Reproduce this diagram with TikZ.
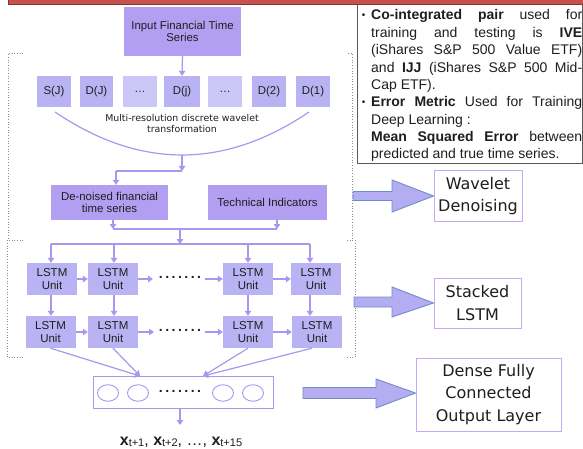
\documentclass[tikz,border=0pt]{standalone}
\usepackage{fontspec}
\setmainfont{Liberation Sans}
\newfontfamily\dejavu{DejaVu Sans}
\usetikzlibrary{arrows.meta,shapes.geometric,calc}
\definecolor{boxA}{HTML}{B29FF2}
\definecolor{boxB}{HTML}{B9B3F3}
\definecolor{boxC}{HTML}{CBC7F7}
\definecolor{lineC}{HTML}{AA96EF}
\definecolor{rbord}{HTML}{C6A8F5}
\definecolor{baFill}{HTML}{B4ADF2}
\definecolor{baDraw}{HTML}{6F8CCB}
\definecolor{barRed}{HTML}{C4524F}
\definecolor{barDark}{HTML}{8E3030}
\definecolor{txt}{HTML}{1E1E1E}
\newcommand\dotrow{\textbf{.\kern2.5pt.\kern2.5pt.\kern2.5pt.\kern2.5pt.\kern2.5pt.\kern2.5pt.}}
\newcommand\xsub[1]{\textbf{x}\raisebox{-1pt}{\fontsize{11}{11}\selectfont #1}}
\begin{document}
\begin{tikzpicture}[x=1pt,y=-1pt,
  pbox/.style={fill=boxA, inner sep=0pt, align=center, text=txt, font=\fontsize{11.4}{11.8}\selectfont},
  dbox/.style={fill=boxB, inner sep=0pt, align=center, text=txt, minimum height=31pt, font=\fontsize{11.4}{12}\selectfont},
  ebox/.style={dbox, fill=boxC},
  lstm/.style={fill=boxB, inner sep=0pt, align=center, text=txt, minimum width=50pt, minimum height=32pt, font=\fontsize{11.5}{12.5}\selectfont},
  conn/.style={draw=lineC, line width=1.2pt},
  arr/.style={conn, -{Triangle[length=5pt,width=6.5pt]}},
  ell/.style={ellipse, draw=lineC, line width=0.9pt, minimum width=21pt, minimum height=16.5pt, inner sep=0pt},
  rbox/.style={draw=rbord, line width=1pt, fill=white, align=center, inner sep=0pt, text=txt, font=\dejavu\fontsize{16}{22.5}\selectfont},
  barrow/.style={fill=baFill, draw=baDraw, line width=0.9pt, line join=miter},
  tl/.style={anchor=base west, inner sep=0pt, text=txt, font=\fontsize{14}{17}\selectfont},
  bul/.style={anchor=base, inner sep=0pt, text=txt, font=\fontsize{10}{10}\selectfont},
  brk/.style={draw=black!45, dotted, line width=0.7pt}
]
\useasboundingbox (0,0) rectangle (583,449);

% red title bar
\draw[fill=barRed, draw=barDark, line width=0.8pt] (8,-3) rectangle (590,4.5);

% dotted brackets
\draw[brk] (23,53) -- (8,53) -- (8,240);
\draw[brk] (348,53) -- (352,53) -- (352,240);
\draw[brk] (23,240) -- (7,240) -- (7,357) -- (23,357);
\draw[brk] (347,240) -- (355,240) -- (355,357) -- (347,357);

% info text box
\draw[draw=black!65, line width=0.8pt] (357,5) -- (357,163) -- (582.6,163) -- (582.6,5);
\node[bul] (b1) at (363.5,19) {•};
\node[tl] (t1) at (371,20) {\makebox[211pt][s]{\textbf{Co-integrated pair} used for}};
\node[tl] (t2) at (371,37.35) {\makebox[211pt][s]{training and testing is \textbf{IVE}}};
\node[tl] (t3) at (371,54.7) {\makebox[211pt][s]{(iShares S\&P 500 Value ETF)}};
\node[tl] (t4) at (371,72.05) {\makebox[211pt][s]{and \textbf{IJJ} (iShares S\&P 500 Mid-}};
\node[tl] (t5) at (371,89.4) {Cap ETF).};
\node[bul] (b2) at (363.5,106) {•};
\node[tl] (t6) at (371,106.75) {\makebox[211pt][s]{\textbf{Error Metric} Used for Training}};
\node[tl] (t7) at (371,124.1) {Deep Learning :};
\node[tl] (t8) at (371,141.45) {\makebox[211pt][s]{\textbf{Mean Squared Error} between}};
\node[tl] (t9) at (371,158.8) {predicted and true time series.};

% input and wavelet decomposition
\node[pbox, minimum width=117pt, minimum height=49pt] (inp) at (182.5,31.5) {Input Financial Time\\Series};
\node[dbox, minimum width=34pt] (sJ) at (54,91.5) {S(J)};
\node[dbox, minimum width=33pt] (dJ) at (96.5,91.5) {D(J)};
\node[ebox, minimum width=34pt] (e1) at (140,91.5) {…};
\node[dbox, minimum width=36pt] (dj) at (182,91.5) {D(j)};
\node[ebox, minimum width=34pt] (e2) at (225,91.5) {…};
\node[dbox, minimum width=34pt] (d2) at (269,91.5) {D(2)};
\node[dbox, minimum width=34pt] (d1) at (313,91.5) {D(1)};
\draw[arr] (inp.south) -- (dj.north);

\coordinate (cL) at (55,112);
\coordinate (cR) at (309,112);
\coordinate (cB) at (182,155);
\draw[conn] (cL) .. controls (139.7,169.3) and (224.3,169.3) .. (cR);
\node[font=\dejavu\fontsize{9.4}{11}\selectfont, align=center, text=txt, inner sep=0pt] (mr) at (182,123.5) {Multi-resolution discrete wavelet\\transformation};

\node[pbox, minimum width=117pt, minimum height=35pt, font=\fontsize{11.4}{12}\selectfont] (den) at (109.5,202.5) {De-noised financial\\time series};
\node[pbox, minimum width=119pt, minimum height=35pt] (tec) at (267.5,202.5) {Technical Indicators};

\coordinate (j1) at (182,171);
\coordinate (j2) at (116,171);
\draw[arr] (cB) -- (j1);
\draw[conn] (j1) -- (j2);
\draw[arr] (j2) -- (j2 |- den.north);

\coordinate (k1) at (113,229);
\coordinate (k2) at (277,229);
\coordinate (k3) at (180,229);
\draw[arr] (den.south -| k1) -- (k1);
\draw[arr] (tec.south -| k2) -- (k2);
\draw[conn] (k1) -- (k2);
\coordinate (m0) at (180,244);
\coordinate (m1) at (51,244);
\coordinate (m2) at (114,244);
\coordinate (m3) at (248,244);
\coordinate (m4) at (310,244);
\draw[arr] (k3) -- (m0);
\draw[conn] (m1) -- (m4);

% stacked LSTM
\node[lstm] (L11) at (52,279) {LSTM\\Unit};
\node[lstm] (L12) at (113,279) {LSTM\\Unit};
\node[lstm] (L13) at (248,279) {LSTM\\Unit};
\node[lstm] (L14) at (316,279) {LSTM\\Unit};
\node[lstm] (L21) at (50.5,332) {LSTM\\Unit};
\node[lstm] (L22) at (113,332) {LSTM\\Unit};
\node[lstm] (L23) at (248,332) {LSTM\\Unit};
\node[lstm] (L24) at (317,332) {LSTM\\Unit};

\draw[arr] (m1) -- (m1 |- L11.north);
\draw[arr] (m2) -- (m2 |- L12.north);
\draw[arr] (m3) -- (m3 |- L13.north);
\draw[arr] (m4) -- (m4 |- L14.north);

\node[inner sep=0pt, text=txt, font=\fontsize{14}{14}\selectfont] (h1) at (180,277) {\dotrow};
\node[inner sep=0pt, text=txt, font=\fontsize{14}{14}\selectfont] (h2) at (180,330) {\dotrow};
\coordinate (a1) at (153,279);
\coordinate (a2) at (205,279);
\coordinate (a3) at (154,332);
\coordinate (a4) at (205,332);
\draw[arr] (L11.east) -- (L12.west);
\draw[arr] (L12.east) -- (a1);
\draw[arr] (a2) -- (L13.west);
\draw[arr] (L13.east) -- (L14.west);
\draw[arr] (L21.east) -- (L22.west);
\draw[arr] (L22.east) -- (a3);
\draw[arr] (a4) -- (L23.west);
\draw[arr] (L23.east) -- (L24.west);

\draw[arr] (L11.south -| m1) -- (m1 |- L21.north);
\draw[arr] (L12.south -| m2) -- (m2 |- L22.north);
\draw[arr] (L13.south -| m3) -- (m3 |- L23.north);
\draw[arr] (L14.south -| m4) -- (m4 |- L24.north);

% dense output layer
\node[draw=lineC, line width=1pt, fill=white, minimum width=180pt, minimum height=32pt, inner sep=0pt] (out) at (183,392) {};
\node[ell] (o1) at (108,393) {};
\node[ell] (o2) at (138,393) {};
\node[ell] (o3) at (223,393) {};
\node[ell] (o4) at (253,393) {};
\node[inner sep=0pt, text=txt, font=\fontsize{14}{14}\selectfont] (od) at (180,391) {\dotrow};

\coordinate (cv1) at (140,376);
\coordinate (cv2) at (203,376);
\draw[arr] (L21.south) -- (cv1);
\draw[arr] (L22.south) -- (cv1);
\draw[arr] (L23.south) -- (cv2);
\draw[arr] ([xshift=-5pt]L24.south) -- (cv2);

\coordinate (xo) at (180,425);
\draw[arr] (out.south -| xo) -- (xo);
\node[anchor=base, inner sep=0pt, text=txt, font=\fontsize{16}{16}\selectfont] (lab) at (181,445)
  {\xsub{t+1}, \xsub{t+2}, …, \xsub{t+15}};

% right-hand labels
\node[rbox, minimum width=88pt, minimum height=50pt] (wav) at (478,196) {Wavelet\\Denoising};
\node[rbox, minimum width=87pt, minimum height=50pt] (stk) at (477.5,303) {Stacked\\LSTM};
\node[rbox, minimum width=145pt, minimum height=73pt] (dns) at (488.5,394.5) {Dense Fully\\Connected\\Output Layer};

% block arrows
\draw[barrow] (353,191.5) -- (392,191.5) -- (392,180) -- (wav.west) -- (392,212) -- (392,200.5) -- (353,200.5) -- cycle;
\draw[barrow] (354,297) -- (392,297) -- (392,287) -- (stk.west) -- (392,317) -- (392,307) -- (354,307) -- cycle;
\draw[barrow] (303,387.5) -- (376,387.5) -- (376,379) -- (dns.west |- 0,393) -- (376,408) -- (376,398.5) -- (303,398.5) -- cycle;
\end{tikzpicture}
\end{document}
